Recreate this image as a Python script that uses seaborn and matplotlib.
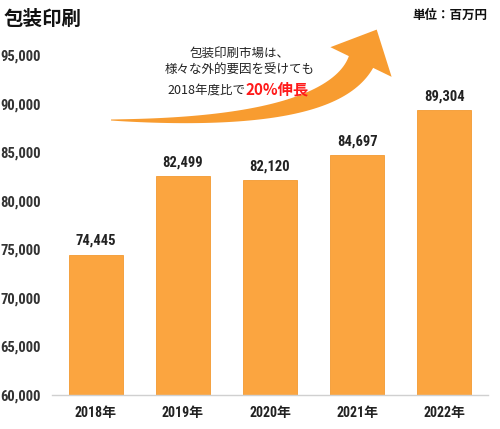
import numpy as np
import pandas as pd
import seaborn as sns
import matplotlib.pyplot as plt
from matplotlib import font_manager
from matplotlib.path import Path
from matplotlib.patches import PathPatch

years = ['2018年', '2019年', '2020年', '2021年', '2022年']
sales = [74445, 82499, 82120, 84697, 89304]
yticks = [60000, 65000, 70000, 75000, 80000, 85000, 90000, 95000]

df = pd.DataFrame({'year': years, 'sales': sales})

sns.set_style('white')
plt.rcParams['font.family'] = ['Noto Sans CJK JP', 'DejaVu Sans']

installed = {f.name for f in font_manager.fontManager.ttflist}
narrow = [n for n in ['Roboto Condensed', 'Open Sans Condensed', 'Liberation Sans Narrow',
                      'DejaVu Sans Condensed'] if n in installed]

W, H = 500, 429
fig = plt.figure(figsize=(W / 100, H / 100), dpi=100)
ax = fig.add_axes([52 / W, 1 - 395 / H, 436 / W, 340 / H])

bar_color = '#FBA540'
sns.barplot(data=df, x='year', y='sales', color=bar_color, width=0.62,
            edgecolor='#F39A30', linewidth=0.6, saturation=1, ax=ax)
ax.set_ylim(60000, 95000)
ax.set_xlim(-0.5, 4.5)
ax.set_yticks(yticks)
ax.set_xlabel('')
ax.set_ylabel('')

if narrow:
    num_font = dict(family=narrow[:1] + ['Noto Sans CJK JP'], fontweight='bold')
    num_size = 10.5
else:
    num_font = dict(family=['Roboto', 'Noto Sans CJK JP'], fontweight='bold')
    num_size = 8.5
ax.set_yticklabels([f'{v:,}' for v in yticks], fontsize=num_size, color='#333333', **num_font)
ax.set_xticklabels(years, fontsize=num_size - 0.5, color='#222222', **num_font)
ax.tick_params(axis='y', length=0, pad=8)
ax.tick_params(axis='x', length=0, pad=8)

for s in ['top', 'right', 'left']:
    ax.spines[s].set_visible(False)
ax.spines['bottom'].set_color('#D0D0D0')
ax.spines['bottom'].set_linewidth(1)

for i, v in enumerate(sales):
    ax.annotate(f'{v:,}', (i, v), xytext=(0, 5), textcoords='offset points',
                ha='center', va='bottom', fontsize=num_size, color='#222222', **num_font)

# curved arrow drawn in figure pixel space
def px(x, y):
    return (x / W, 1 - y / H)

p0 = np.array([111, 120])
p1 = np.array([330, 126])
p2 = np.array([361, 62])
t = np.linspace(0, 1, 60)
pts = ((1 - t)[:, None] ** 2) * p0 + (2 * (1 - t) * t)[:, None] * p1 + (t ** 2)[:, None] * p2
der = 2 * (1 - t)[:, None] * (p1 - p0) + 2 * t[:, None] * (p2 - p1)
nrm = np.stack([-der[:, 1], der[:, 0]], axis=1)
nrm /= np.linalg.norm(nrm, axis=1)[:, None]
half = 0.5 + 13 * t ** 0.9
upper = pts + nrm * half[:, None]
lower = pts - nrm * half[:, None]
d = der[-1] / np.linalg.norm(der[-1])
n = nrm[-1]
tip = p2 + d * 36
left = p2 + n * 34
right = p2 - n * 34
outline = list(lower) + [right, tip, left] + list(upper[::-1])
verts = [px(x, y) for x, y in outline]
verts.append(verts[0])
codes = [Path.MOVETO] + [Path.LINETO] * (len(verts) - 2) + [Path.CLOSEPOLY]
fig.patches.append(PathPatch(Path(verts, codes), transform=fig.transFigure,
                             facecolor='#F89C30', edgecolor='none'))

fig.text(*px(4, 19), '包装印刷', fontsize=14, fontweight='bold', color='#111111',
         ha='left', va='center')
fig.text(*px(487, 15), '単位：百万円', fontsize=9, fontweight='bold', color='#111111',
         ha='right', va='center')
fig.text(*px(240, 53), '包装印刷市場は、', fontsize=9, color='#222222',
         ha='center', va='center')
fig.text(*px(240, 70), '様々な外的要因を受けても', fontsize=9, color='#222222',
         ha='center', va='center')
fig.text(*px(245, 94), '2018年度比で', fontsize=9, color='#222222',
         ha='right', va='baseline')
fig.text(*px(246, 94), '20%伸長', fontsize=11, fontweight='bold', color='#FF1A1A',
         ha='left', va='baseline')

fig.savefig('out.png', dpi=100)
